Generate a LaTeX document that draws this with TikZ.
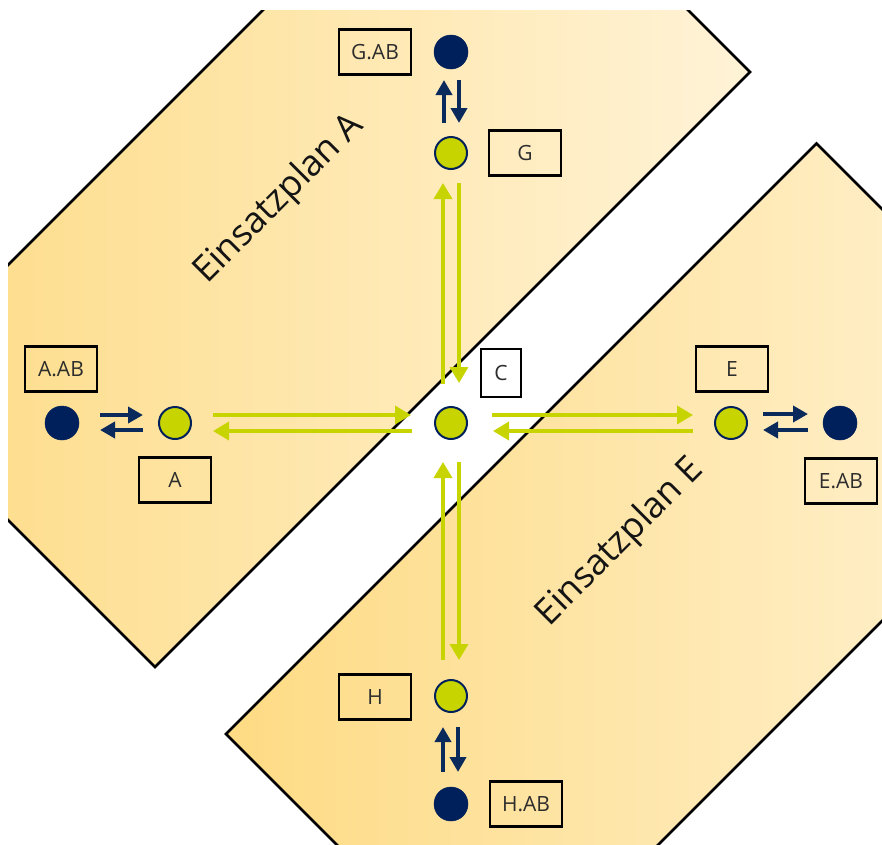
\documentclass[tikz,border=0pt]{standalone}
\usepackage{fontspec}
\setmainfont{Open Sans}
\usetikzlibrary{arrows.meta,calc}
\definecolor{plandark}{RGB}{254,219,132}
\definecolor{planlight}{RGB}{255,243,215}
\definecolor{lime}{RGB}{200,212,0}
\definecolor{navy}{RGB}{0,32,91}
\definecolor{navyarrow}{RGB}{10,42,92}
\definecolor{labeltext}{RGB}{45,45,45}
\begin{document}
\begin{tikzpicture}[x=1pt,y=-1pt,
 plan/.style={left color=plandark,right color=planlight},
 planedge/.style={draw=black,line width=2.6pt,line join=miter},
 gnode/.style={circle,fill=lime,draw=navy,line width=2pt,minimum size=32pt,inner sep=0pt},
 dnode/.style={circle,fill=navy,draw=navy,line width=0.5pt,minimum size=34pt,inner sep=0pt},
 lbl/.style={draw=black,line width=2.4pt,minimum width=72pt,minimum height=45pt,inner sep=0pt,text=labeltext,font=\fontsize{21}{24}\selectfont},
 garr/.style={draw=lime,line width=3.6pt,-{Triangle[length=16pt,width=18pt]}},
 darr/.style={draw=navyarrow,line width=4pt,-{Triangle[length=15pt,width=16pt]}},
 plantext/.style={rotate=45,anchor=base,inner sep=0pt,font=\fontsize{36}{40}\selectfont,text=black!92}
]
\useasboundingbox (0,0) rectangle (882,844);
\fill[white] (0,0) rectangle (882,844);
% Einsatzplan A
\begin{scope}
\clip (8,10) rectangle (882,844);
\path[plan] (475.5,-202.5) -- (750,72) -- (155,667) -- (-119.5,392.5) -- cycle;
\draw[planedge] (475.5,-202.5) -- (750,72) -- (155,667) -- (-119.5,392.5) -- cycle;
\end{scope}
% Einsatzplan E
\begin{scope}
\clip (0,0) rectangle (882,844);
\path[plan] (816.5,143.5) -- (1088,415) -- (497.5,1005.5) -- (226,734) -- cycle;
\draw[planedge] (816.5,143.5) -- (1088,415) -- (497.5,1005.5) -- (226,734) -- cycle;
\end{scope}
\node[plantext] (ta) at (286,206) {Einsatzplan A};
\node[plantext] (te) at (627,549) {Einsatzplan E};
% nodes
\node[dnode] (gab) at (451,52) {};
\node[gnode] (g) at (451,153) {};
\node[gnode] (c) at (451,423) {};
\node[gnode] (a) at (175,423) {};
\node[dnode] (aab) at (62,423) {};
\node[gnode] (e) at (731,423) {};
\node[dnode] (eab) at (840,423) {};
\node[gnode] (h) at (451,696) {};
\node[dnode] (hab) at (451,804) {};
% labels
\node[lbl] (lgab) at (375,52) {G.AB};
\node[lbl] (lg) at (525,153) {G};
\node[lbl] (laab) at (61,369) {A.AB};
\node[lbl] (la) at (175,480) {A};
\node[lbl,minimum width=40pt,minimum height=48pt,fill=white] (lc) at (501,373) {C};
\node[lbl] (le) at (732,369) {E};
\node[lbl] (leab) at (841,481) {E.AB};
\node[lbl] (lh) at (375,697) {H};
\node[lbl] (lhab) at (526,804) {H.AB};
% green arrows
\draw[garr] ($(a)+(38,-8)$) -- ($(c)+(-40,-8)$);
\draw[garr] ($(c)+(-39,8)$) -- ($(a)+(38,8)$);
\draw[garr] ($(c)+(41,-8)$) -- ($(e)+(-38,-8)$);
\draw[garr] ($(e)+(-38,8)$) -- ($(c)+(42,8)$);
\draw[garr] ($(c)+(-8,-39)$) -- ($(g)+(-8,30)$);
\draw[garr] ($(g)+(8,30)$) -- ($(c)+(8,-40)$);
\draw[garr] ($(h)+(-8,-36)$) -- ($(c)+(-8,39)$);
\draw[garr] ($(c)+(8,39)$) -- ($(h)+(8,-36)$);
% navy arrows
\draw[darr] ($(aab)+(38,-8)$) -- ($(a)+(-32,-8)$);
\draw[darr] ($(a)+(-32,7)$) -- ($(aab)+(38,7)$);
\draw[darr] ($(e)+(32,-9)$) -- ($(eab)+(-32,-9)$);
\draw[darr] ($(eab)+(-32,7)$) -- ($(e)+(32,7)$);
\draw[darr] ($(g)+(-7,-30)$) -- ($(gab)+(-7,28)$);
\draw[darr] ($(gab)+(8,28)$) -- ($(g)+(8,-30)$);
\draw[darr] ($(hab)+(-8,-32)$) -- ($(h)+(-8,31)$);
\draw[darr] ($(h)+(7,31)$) -- ($(hab)+(7,-32)$);
\end{tikzpicture}
\end{document}
